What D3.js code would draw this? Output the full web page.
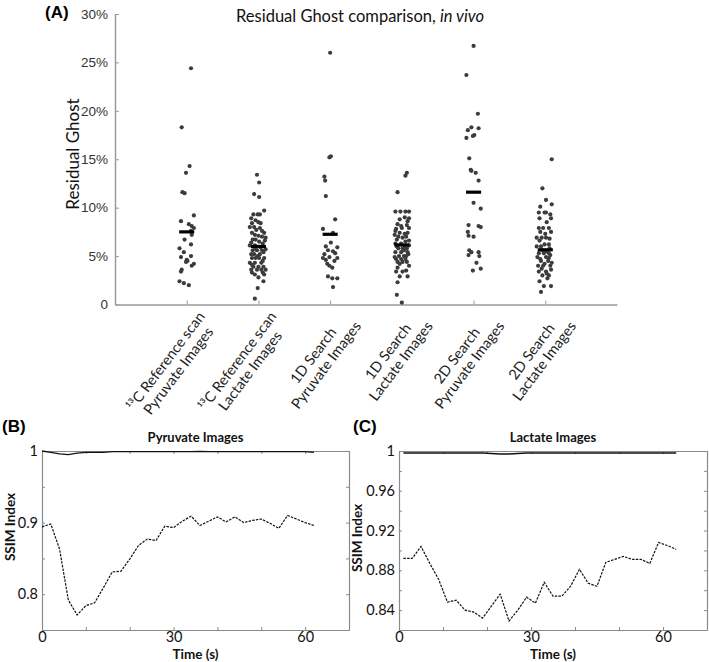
<!DOCTYPE html>
<html>
<head>
<meta charset="utf-8">
<script src="https://cdn.jsdelivr.net/npm/d3@7/dist/d3.min.js"></script>
<style>
  html, body { margin: 0; padding: 0; background: #fff; }
  svg { display: block; }
</style>
</head>
<body>
<svg id="chart" width="709" height="662"></svg>
<script>
// ---------------- DATA ----------------
const categories = [
  ["\u00B9\u00B3C Reference scan", "Pyruvate Images"],
  ["\u00B9\u00B3C Reference scan", "Lactate Images"],
  ["1D Search", "Pyruvate Images"],
  ["1D Search", "Lactate Images"],
  ["2D Search", "Pyruvate Images"],
  ["2D Search", "Lactate Images"]
];
const groupMeans = [7.5, 6.0, 7.25, 6.15, 11.6, 5.65];
const yTicksA = [0, 5, 10, 15, 20, 25, 30];

// [residual ghost %, horizontal jitter in category units]
const refPyruvate = [[24.4,0.06],[18.3,-0.07],[14.3,0.04],[13.6,-0.01],[11.6,-0.06],[11.5,-0.03],[9.2,0.1],[8.6,-0.08],[8.3,0.03],[8.1,0.07],[7.9,0.1],[7.6,0.06],[7.2,0.07],[6.7,-0.03],[6.2,0.06],[5.8,-0.1],[5.4,-0.04],[5.0,0.06],[4.9,-0.08],[4.6,0],[4.5,0.01],[4.4,-0.01],[4.2,0.1],[4.0,0.07],[3.6,-0.07],[3.4,-0.08],[2.4,-0.1],[2.2,-0.04],[2.0,0.03]];
const refLactate = [[13.4,-0.02],[12.6,0.01],[11.4,-0.06],[11.1,0.01],[9.7,0.08],[9.3,-0.07],[9.3,-0.01],[9.3,0.02],[8.9,-0.1],[8.7,-0.04],[8.5,0],[8.4,-0.09],[8.4,0.03],[8.0,-0.12],[8.0,-0.06],[7.9,0.02],[7.4,-0.09],[7.4,0.08],[7.2,-0.05],[7.1,0],[7.0,0.05],[6.9,0.1],[6.7,-0.08],[6.7,-0.04],[6.5,0.01],[6.6,0.09],[6.1,-0.12],[6.1,-0.05],[7.7,-0.03],[6.3,0.06],[6.4,-0.1],[7.6,0.05],[5.6,-0.08],[5.6,-0.02],[5.6,0.05],[5.2,-0.1],[5.2,-0.06],[5.2,0.02],[5.4,0.07],[4.8,-0.09],[4.8,-0.04],[4.8,0.01],[4.8,0.08],[4.3,-0.12],[4.3,-0.05],[4.3,0.04],[3.9,-0.07],[3.9,0],[3.9,0.07],[3.6,-0.1],[3.6,-0.02],[3.6,0.04],[3.6,0.1],[3.3,-0.09],[3.3,0.06],[3.1,-0.05],[3.1,0.08],[2.8,0],[2.4,0.07],[1.7,-0.01],[0.6,-0.05],[5.8,-0.04],[5.9,0.03],[5.0,-0.01],[4.5,0.06],[4.1,-0.09],[5.7,0.1]];
const search1DPyruvate = [[26.0,0],[15.3,0.01],[15.2,-0.01],[13.2,-0.08],[12.8,-0.07],[11.2,-0.06],[8.8,0.07],[7.8,-0.1],[7.4,0.04],[6.4,0.01],[6.0,-0.06],[5.9,0.1],[5.6,-0.03],[5.5,0.04],[5.2,-0.08],[4.9,-0.01],[4.8,-0.1],[4.8,0.1],[4.5,0.06],[4.2,-0.04],[4.0,-0.01],[3.8,0.03],[2.9,-0.03],[2.7,0.03],[2.7,0.1],[1.8,0.04],[5.3,0.07],[4.6,-0.06]];
const search1DLactate = [[13.6,0.07],[13.3,0.05],[11.6,-0.06],[9.6,-0.09],[9.6,-0.02],[9.6,0.05],[9.6,0.1],[9.0,0.04],[8.9,0.1],[8.8,-0.03],[8.6,0.08],[8.3,-0.06],[8.2,0.07],[7.9,0.1],[7.8,-0.08],[7.9,0],[7.4,-0.03],[7.3,0.04],[7.4,0.08],[7.0,-0.05],[6.9,0.01],[7.0,0.06],[6.6,0.1],[6.3,-0.09],[6.3,-0.01],[8.1,-0.01],[7.6,-0.09],[6.7,-0.07],[6.5,0.05],[7.2,-0.1],[5.8,-0.05],[5.8,0.01],[5.8,0.07],[5.4,-0.09],[5.4,-0.01],[5.4,0.08],[5.0,-0.04],[5.0,0.03],[5.0,0.06],[4.7,-0.08],[4.7,-0.01],[4.7,0.05],[4.4,-0.06],[4.4,0.01],[4.4,0.07],[4.0,0.1],[3.4,-0.08],[3.4,0.01],[3.5,0.06],[2.9,-0.03],[2.9,0.08],[2.3,-0.06],[1.0,-0.07],[0.2,0],[6.0,-0.07],[5.6,0.03],[5.2,0.09],[4.9,-0.1],[4.2,-0.03],[3.8,-0.06],[6.1,0.1],[5.9,0.04]];
const search2DPyruvate = [[26.7,0],[23.7,-0.1],[19.7,0.06],[18.3,-0.03],[18.2,0.07],[18.0,-0.08],[17.5,0.01],[17.4,-0.01],[17.2,-0.1],[15.1,-0.06],[13.9,-0.04],[13.8,-0.03],[13.6,0.03],[12.8,0.07],[10.5,0],[9.9,0.1],[8.2,-0.07],[8.1,0.07],[8.0,0.1],[7.5,-0.08],[7.1,-0.07],[7.0,0],[5.6,-0.06],[5.4,0.07],[5.4,-0.03],[5.1,-0.07],[5.0,0.08],[4.3,0.04],[3.7,0.1],[3.5,-0.01]];
const search2DLactate = [[15.0,0.09],[12.0,-0.04],[10.8,0.01],[10.1,-0.07],[10.35,0.09],[9.5,-0.09],[9.5,-0.01],[9.5,0.01],[9.3,0.07],[8.9,-0.08],[8.9,0.08],[8.5,0.02],[7.9,-0.09],[7.9,-0.03],[7.9,0.05],[7.5,-0.07],[7.5,0.08],[7.3,0],[6.9,-0.12],[6.9,-0.05],[6.9,0.01],[6.8,0.06],[6.6,-0.08],[6.2,-0.01],[6.2,0.05],[6.0,-0.12],[6.0,-0.06],[5.3,-0.09],[5.3,-0.02],[5.3,0.05],[4.9,-0.11],[4.9,0.01],[4.5,-0.06],[4.5,0.04],[4.0,-0.1],[4.0,-0.03],[4.0,0.07],[3.4,-0.09],[3.4,0.01],[3.0,-0.04],[3.0,0.05],[2.4,-0.08],[1.9,-0.02],[1.9,0.08],[1.3,-0.06],[5.6,-0.04],[5.5,0.02],[5.1,0.07],[4.7,-0.07],[4.3,0.09],[3.7,-0.05],[3.2,0.02],[4.2,-0.01],[5.8,0.06],[2.7,0.03],[3.6,0.08],[4.8,0.05]];
const groupPoints = [refPyruvate, refLactate, search1DPyruvate, search1DLactate, search2DPyruvate, search2DLactate];

// Panel B: pyruvate SSIM
const timeB = [0,2,4,6,8,10,12,14,16,18,20,22,24,26,28,30,32,34,36,38,40,42,44,46,48,50,52,54,56,58,60,62];
const pyrSolid = [1.000,0.998,0.996,0.995,0.997,0.998,0.998,0.998,0.999,0.999,0.999,0.999,0.999,0.999,0.999,0.999,0.999,0.999,0.9995,0.999,0.999,0.999,0.999,0.999,0.999,0.999,0.999,0.999,0.999,0.999,0.999,0.998];
const pyrDashed = [0.894,0.898,0.863,0.792,0.771,0.784,0.788,0.809,0.831,0.832,0.849,0.868,0.877,0.875,0.895,0.893,0.902,0.909,0.896,0.902,0.908,0.901,0.908,0.900,0.903,0.905,0.899,0.892,0.910,0.905,0.900,0.896];
const yTicksB = [0.75,0.8,0.85,0.9,0.95,1];
const yLabelsB = [0.8,0.9,1];

// Panel C: lactate SSIM
const timeC = [1,3,5,7,9,11,13,15,17,19,21,23,25,27,29,31,33,35,37,39,41,43,45,47,49,51,53,55,57,59,61,63];
const lacSolid = [0.998,0.998,0.998,0.998,0.998,0.998,0.998,0.998,0.998,0.998,0.9975,0.997,0.997,0.9975,0.998,0.998,0.998,0.998,0.998,0.998,0.998,0.998,0.998,0.998,0.998,0.998,0.998,0.998,0.998,0.998,0.998,0.998];
const lacDashed = [0.892,0.892,0.904,0.887,0.871,0.848,0.850,0.840,0.838,0.832,0.844,0.856,0.829,0.840,0.853,0.847,0.868,0.854,0.854,0.864,0.881,0.867,0.864,0.888,0.891,0.894,0.891,0.891,0.887,0.908,0.905,0.901];
const yTicksC = [0.82,0.84,0.86,0.88,0.90,0.92,0.94,0.96,0.98,1];
const yLabelsC = [0.84,0.88,0.92,0.96,1];

const xTicksTime = [0,10,20,30,40,50,60,70];
const xLabelsTime = [0,30,60];

// ---------------- DRAW ----------------
const svg = d3.select("#chart");
const calibri = "Lato, 'Open Sans', sans-serif";
const arial = "'Liberation Sans', Arial, sans-serif";

// ===== Panel A =====
const xA = d3.scaleLinear().domain([0, 7]).range([115, 617]);
const yA = d3.scaleLinear().domain([0, 30]).range([304.5, 14]);

const gA = svg.append("g");
const axA = gA.append("g").attr("transform", "translate(115,0)")
  .call(d3.axisLeft(yA).tickValues(yTicksA).tickSize(-4).tickSizeOuter(0).tickPadding(7)
    .tickFormat(d => d === 0 ? "0" : d + "%"));
const axAx = gA.append("g").attr("transform", "translate(0,304.5)")
  .call(d3.axisBottom(xA).tickValues(d3.range(1, categories.length + 1)).tickSize(-4).tickSizeOuter(0).tickFormat(""));
[axA, axAx].forEach(a => {
  a.select(".domain").attr("stroke", "#9a9a9a").attr("stroke-width", 1.5);
  a.selectAll(".tick line").attr("stroke", "#9a9a9a");
  a.selectAll(".tick text").attr("font-family", arial).attr("font-size", 13.5).attr("fill", "#333");
});

// points
groupPoints.forEach((pts, i) => {
  gA.append("g").selectAll("circle").data(pts).join("circle")
    .attr("cx", d => xA(i + 1 + d[1]))
    .attr("cy", d => yA(d[0]))
    .attr("r", 2.1)
    .attr("fill", "#3c3c3c");
});
// mean bars
gA.append("g").selectAll("line").data(groupMeans).join("line")
  .attr("x1", (d, i) => xA(i + 1 - 0.105))
  .attr("x2", (d, i) => xA(i + 1 + 0.105))
  .attr("y1", d => yA(d)).attr("y2", d => yA(d))
  .attr("stroke", "#000").attr("stroke-width", 3.2);

// x labels (grouped with slight opacity for grayscale anti-aliasing)
const labelLayer = gA.append("g").attr("opacity", 0.995);
categories.forEach((lines, i) => {
  const g = labelLayer.append("g")
    .attr("transform", `translate(${xA(i + 1) + 10},${310}) rotate(-53)`);
  const texts = lines.map((t, k) => g.append("text")
    .attr("y", 11 + k * 16)
    .attr("text-anchor", "middle")
    .attr("font-family", calibri).attr("font-size", 14.5).attr("fill", "#222")
    .text(t));
  const w = d3.max(texts, t => t.node().getComputedTextLength());
  texts.forEach(t => t.attr("x", -w / 2));
});

// titles
svg.append("text").attr("x", 45).attr("y", 18)
  .attr("font-family", arial).attr("font-weight", "bold").attr("font-size", 17).text("(A)");
const title = svg.append("text").attr("x", 360).attr("y", 22).attr("text-anchor", "middle")
  .attr("font-family", calibri).attr("font-size", 16.5).attr("fill", "#111");
title.append("tspan").text("Residual Ghost comparison, ");
title.append("tspan").attr("font-style", "italic").text("in vivo");
svg.append("text").attr("transform", "translate(79,154) rotate(-90)").attr("text-anchor", "middle")
  .attr("font-family", calibri).attr("font-size", 17).attr("fill", "#111").text("Residual Ghost");

// ===== Line panels =====
function linePanel(opts) {
  const { x0, x1, y0, y1, yDomain, yTicks, yLabels, time, solid, dashed, title, label, labelX, ylabX, ylabY } = opts;
  const x = d3.scaleLinear().domain([0, 70]).range([x0, x1]);
  const y = d3.scaleLinear().domain(yDomain).range([y1, y0]);
  const g = svg.append("g");
  const fmtY = d => yLabels.some(v => Math.abs(v - d) < 1e-9) ? d3.format("")(+d.toFixed(2)) : "";
  const fmtX = d => xLabelsTime.includes(d) ? String(d) : "";
  const axes = [
    g.append("g").attr("transform", `translate(${x0},0)`).call(d3.axisLeft(y).tickValues(yTicks).tickSize(-3).tickSizeOuter(0).tickPadding(4).tickFormat(fmtY)),
    g.append("g").attr("transform", `translate(${x1},0)`).call(d3.axisRight(y).tickValues(yTicks).tickSize(-3).tickSizeOuter(0).tickFormat("")),
    g.append("g").attr("transform", `translate(0,${y1})`).call(d3.axisBottom(x).tickValues(xTicksTime).tickSize(-3).tickSizeOuter(0).tickPadding(2).tickFormat(fmtX)),
    g.append("g").attr("transform", `translate(0,${y0})`).call(d3.axisTop(x).tickValues(xTicksTime).tickSize(-3).tickSizeOuter(0).tickFormat(""))
  ];
  axes.forEach(a => {
    a.select(".domain").attr("stroke", "#8a8a8a").attr("stroke-width", 1.2);
    a.selectAll(".tick line").attr("stroke", "#8a8a8a");
    a.selectAll(".tick text").attr("font-family", calibri).attr("font-size", 14.5).attr("fill", "#111");
  });
  const line = d3.line().x((d, i) => x(time[i])).y(d => y(d));
  g.append("path").datum(solid).attr("d", line).attr("fill", "none").attr("stroke", "#111").attr("stroke-width", 1.3);
  g.append("path").datum(dashed).attr("d", line).attr("fill", "none").attr("stroke", "#111")
    .attr("stroke-width", 1.2).attr("stroke-dasharray", "2.5,1.2");
  g.append("text").attr("x", (x0 + x1) / 2).attr("y", 442).attr("text-anchor", "middle")
    .attr("font-family", calibri).attr("font-weight", "bold").attr("font-size", 13).attr("fill", "#111").text(title);
  g.append("text").attr("x", (x0 + x1) / 2).attr("y", 659).attr("text-anchor", "middle")
    .attr("font-family", calibri).attr("font-weight", "bold").attr("font-size", 13.5).attr("fill", "#111").text("Time (s)");
  g.append("text").attr("transform", `translate(${ylabX},${ylabY}) rotate(-90)`).attr("text-anchor", "middle")
    .attr("font-family", calibri).attr("font-weight", "bold").attr("font-size", 13.5).attr("fill", "#111").text("SSIM Index");
  svg.append("text").attr("x", labelX).attr("y", 432)
    .attr("font-family", arial).attr("font-weight", "bold").attr("font-size", 17).text(label);
}

linePanel({ x0: 42, x1: 349, y0: 451, y1: 630, yDomain: [0.75, 1], yTicks: yTicksB, yLabels: yLabelsB,
  time: timeB, solid: pyrSolid, dashed: pyrDashed, title: "Pyruvate Images", label: "(B)", labelX: 2, ylabX: 15, ylabY: 527 });
linePanel({ x0: 399, x1: 707, y0: 451, y1: 630, yDomain: [0.82, 1], yTicks: yTicksC, yLabels: yLabelsC,
  time: timeC, solid: lacSolid, dashed: lacDashed, title: "Lactate Images", label: "(C)", labelX: 353, ylabX: 362, ylabY: 538 });
</script>
</body>
</html>
